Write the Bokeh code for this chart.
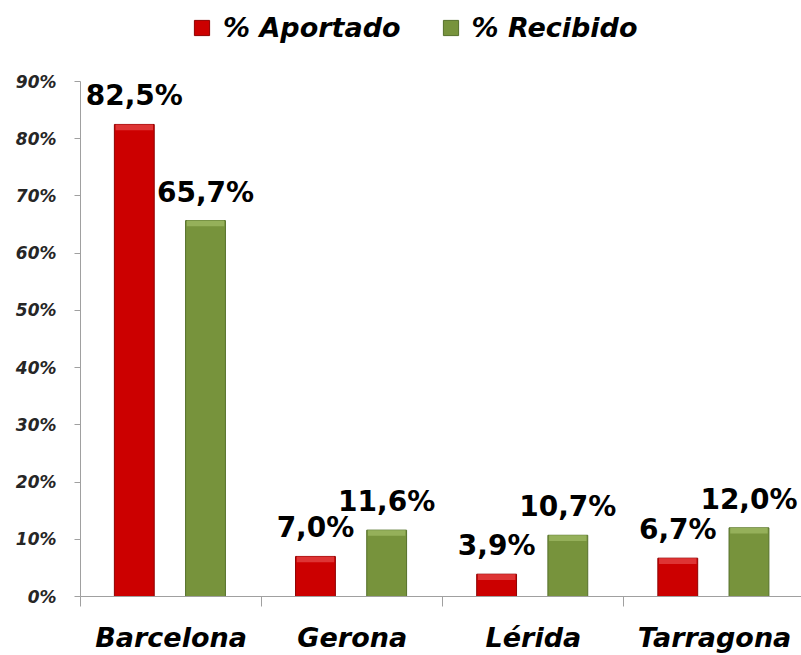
from bokeh.plotting import figure
from bokeh.models import (ColumnDataSource, Legend, LegendItem, FixedTicker,
                          NumeralTickFormatter, Range1d, LinearAxis)
from bokeh.core.properties import value
from bokeh.embed import file_html
from bokeh.resources import INLINE

categories = ["Barcelona", "Gerona", "Lérida", "Tarragona"]
aportado = [0.825, 0.070, 0.039, 0.067]
recibido = [0.657, 0.116, 0.107, 0.120]
y_ticks = [0.0, 0.1, 0.2, 0.3, 0.4, 0.5, 0.6, 0.7, 0.8, 0.9]

RED = "#CC0000"
RED_LINE = "#8E0000"
RED_TOP = "#DE3434"
GREEN = "#77933C"
GREEN_LINE = "#55702A"
GREEN_TOP = "#95B05A"

FONT = "DejaVu Sans"
OFFSET_A = 0.203
OFFSET_R = 0.190
BAR_W = 0.22
BEVEL = 0.010

centers = [i + 0.5 for i in range(len(categories))]

def fmt(v):
    return f"{v*100:.1f}%".replace(".", ",")

src_a = ColumnDataSource(dict(x=[c - OFFSET_A for c in centers], top=aportado,
                              bev=[v - BEVEL for v in aportado],
                              label=[fmt(v) for v in aportado]))
src_r = ColumnDataSource(dict(x=[c + OFFSET_R for c in centers], top=recibido,
                              bev=[v - BEVEL for v in recibido],
                              label=[fmt(v) for v in recibido]))

p = figure(width=801, height=655, output_backend="svg", toolbar_location=None,
           x_range=Range1d(0, 3.98), y_range=Range1d(0, 1.0416),
           min_border_left=80, min_border_right=0, min_border_top=0,
           min_border_bottom=59, x_axis_type=None, y_axis_type=None)
p.outline_line_color = None
p.xgrid.visible = False
p.ygrid.visible = False
p.background_fill_color = "white"
p.border_fill_color = "white"

ra = p.vbar(x="x", top="top", width=BAR_W, bottom=0, source=src_a,
            fill_color=RED, line_color=RED_LINE, line_width=1)
rr = p.vbar(x="x", top="top", width=BAR_W, bottom=0, source=src_r,
            fill_color=GREEN, line_color=GREEN_LINE, line_width=1)
p.vbar(x="x", top="top", bottom="bev", width=BAR_W * 0.94, source=src_a,
       fill_color=RED_TOP, line_color=None)
p.vbar(x="x", top="top", bottom="bev", width=BAR_W * 0.94, source=src_r,
       fill_color=GREEN_TOP, line_color=None)

for src in (src_a, src_r):
    p.text(x="x", y="top", text="label", source=src, text_align="center",
           text_baseline="bottom", y_offset=-12,
           text_font=value(FONT), text_font_style="bold",
           text_font_size="28px", text_color="black")

# y axis
yaxis = LinearAxis(ticker=FixedTicker(ticks=y_ticks), bounds=(0, 0.9),
                   formatter=NumeralTickFormatter(format="0%"))
yaxis.axis_line_color = "#A0A0A0"
yaxis.major_tick_line_color = "#A0A0A0"
yaxis.major_tick_out = 6
yaxis.major_tick_in = 0
yaxis.minor_tick_line_color = None
yaxis.major_label_standoff = 18
yaxis.major_label_text_font = FONT
yaxis.major_label_text_font_style = "bold italic"
yaxis.major_label_text_font_size = "17px"
yaxis.major_label_text_color = "#262626"
p.add_layout(yaxis, "left")

# x axis
xaxis = LinearAxis(ticker=FixedTicker(ticks=centers,
                                      minor_ticks=list(range(len(categories) + 1))))
xaxis.major_label_overrides = {c: n for c, n in zip(centers, categories)}
xaxis.axis_line_color = "#A0A0A0"
xaxis.major_tick_line_color = None
xaxis.major_tick_out = 0
xaxis.major_tick_in = 0
xaxis.minor_tick_line_color = "#A0A0A0"
xaxis.minor_tick_out = 10
xaxis.minor_tick_in = 0
xaxis.major_label_standoff = 15
xaxis.major_label_text_font = FONT
xaxis.major_label_text_font_style = "bold italic"
xaxis.major_label_text_font_size = "27px"
xaxis.major_label_text_color = "black"
p.add_layout(xaxis, "below")

legend = Legend(items=[LegendItem(label="% Aportado", renderers=[ra]),
                       LegendItem(label="% Recibido", renderers=[rr])],
                orientation="horizontal", location=(112, 553))
legend.border_line_color = None
legend.background_fill_alpha = 0
legend.label_text_font = FONT
legend.label_text_font_style = "bold italic"
legend.label_text_font_size = "27px"
legend.label_text_color = "black"
legend.glyph_width = 19
legend.glyph_height = 19
legend.label_standoff = 12
legend.spacing = 40
legend.padding = 4
legend.margin = 0
p.add_layout(legend, "center")

open("out.html", "w").write(file_html(p, INLINE))
